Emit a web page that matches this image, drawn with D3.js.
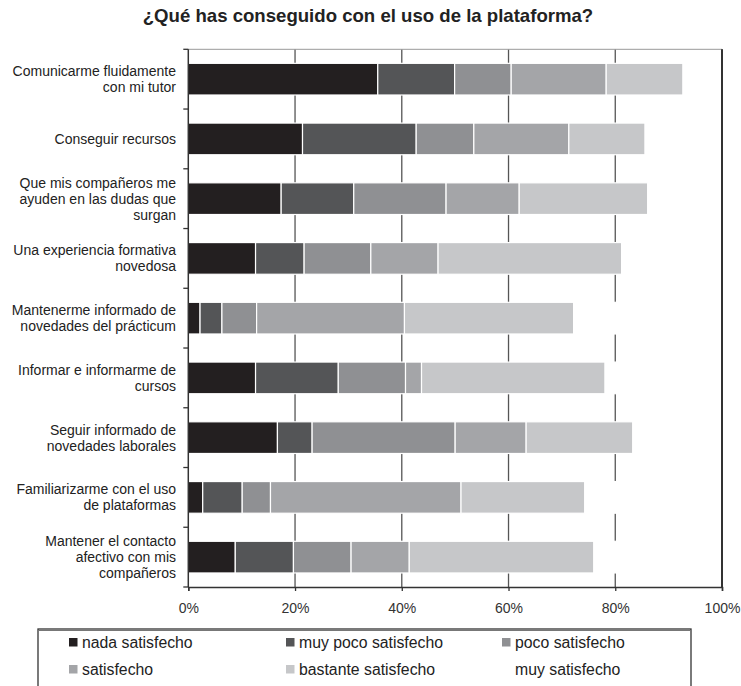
<!DOCTYPE html>
<html>
<head>
<meta charset="utf-8">
<script src="https://cdn.jsdelivr.net/npm/d3@7"></script>
<style>
  body { margin: 0; background: #fff; }
  svg { display: block; font-family: "Liberation Sans", Arial, sans-serif; }
</style>
</head>
<body>
<svg id="chart" width="741" height="686"></svg>
<script>
// categories (line breaks as in the picture)
var categories = [
  "Comunicarme fluidamente\ncon mi tutor",
  "Conseguir recursos",
  "Que mis compañeros me\nayuden en las dudas que\nsurgan",
  "Una experiencia formativa\nnovedosa",
  "Mantenerme informado de\nnovedades del prácticum",
  "Informar e informarme de\ncursos",
  "Seguir informado de\nnovedades laborales",
  "Familiarizarme con el uso\nde plataformas",
  "Mantener el contacto\nafectivo con mis\ncompañeros"
]

var seriesNames = ["nada satisfecho", "muy poco satisfecho", "poco satisfecho",
  "satisfecho", "bastante satisfecho", "muy satisfecho"]

// percentages
var nada     = [35.5, 21.4, 17.4, 12.6,  2.2, 12.6, 16.7,  2.7,  8.8]
var muyPoco  = [14.4, 21.3, 13.6,  9.1,  4.1, 15.5,  6.5,  7.4, 10.9]
var poco     = [10.6, 10.8, 17.3, 12.5,  6.5, 12.6, 26.8,  5.3, 10.8]
var satisf   = [17.8, 17.8, 13.7, 12.6, 27.7,  3.0, 13.3, 35.7, 10.9]
var bastante = [14.4, 14.3, 24.1, 34.4, 31.7, 34.4, 20.0, 23.2, 34.6]
var muy      = [ 7.3, 14.4, 13.9, 18.8, 27.8, 21.9, 16.7, 25.7, 24.0]

var xTicks = [0, 20, 40, 60, 80, 100]

var colors = ["#231f20", "#545557", "#8f9093", "#a4a5a8", "#c6c7c9", "#ffffff"]

var series = [nada, muyPoco, poco, satisf, bastante, muy]
var table = categories.map(function (c, i) {
  var row = { cat: c }
  seriesNames.forEach(function (s, k) { row[s] = series[k][i] })
  return row
})

var svg = d3.select("#chart")
var pLeft = 188.3, pRight = 722, pTop = 49.3, pBottom = 587

var x = d3.scaleLinear().domain([0, 100]).range([pLeft, pRight])
var y = d3.scaleBand().domain(categories).range([pTop, pBottom])
  .paddingInner(0.47).paddingOuter(0.235)

// title
svg.append("text")
  .attr("x", 368).attr("y", 22)
  .attr("text-anchor", "middle")
  .style("font-size", "18.6px").style("font-weight", "bold")
  .attr("fill", "#222")
  .text("¿Qué has conseguido con el uso de la plataforma?")

// gridlines
svg.append("g").selectAll("line")
  .data(xTicks.slice(1))
  .enter().append("line")
  .attr("x1", function (d) { return x(d) }).attr("x2", function (d) { return x(d) })
  .attr("y1", pTop).attr("y2", pBottom)
  .attr("stroke", "#555").attr("stroke-width", 1.3)

// top frame line
svg.append("line")
  .attr("x1", pLeft).attr("x2", pRight).attr("y1", pTop).attr("y2", pTop)
  .attr("stroke", "#999").attr("stroke-width", 1)

// stacked bars
var stack = d3.stack().keys(seriesNames)(table)

svg.append("g").selectAll("g")
  .data(stack)
  .enter().append("g")
  .attr("fill", function (d, i) { return colors[i] })
  .selectAll("rect")
  .data(function (d) { return d })
  .enter().append("rect")
  .attr("x", function (d) { return x(d[0]) })
  .attr("width", function (d) { return x(d[1]) - x(d[0]) })
  .attr("y", function (d) { return y(d.data.cat) })
  .attr("height", y.bandwidth())
  .attr("stroke", "#fff").attr("stroke-width", 1.2)

// right frame
svg.append("line")
  .attr("x1", pRight).attr("x2", pRight).attr("y1", pTop).attr("y2", pBottom)
  .attr("stroke", "#333").attr("stroke-width", 2)

// left axis with ticks between categories
svg.append("line")
  .attr("x1", pLeft).attr("x2", pLeft).attr("y1", pTop).attr("y2", pBottom)
  .attr("stroke", "#333").attr("stroke-width", 1.5)

var bounds = d3.range(categories.length + 1).map(function (i) { return pTop + i * y.step() })
svg.append("g").selectAll("line")
  .data(bounds)
  .enter().append("line")
  .attr("x1", pLeft - 5).attr("x2", pLeft)
  .attr("y1", function (d) { return d }).attr("y2", function (d) { return d })
  .attr("stroke", "#333").attr("stroke-width", 1.3)

// category labels
var labels = svg.append("g").selectAll("text")
  .data(categories)
  .enter().append("text")
  .attr("text-anchor", "end")
  .attr("fill", "#222")
  .style("font-size", "14px")

labels.each(function (c) {
  var lines = c.split("\n")
  var cy = y(c) + y.bandwidth() / 2
  var t = d3.select(this)
  lines.forEach(function (l, j) {
    t.append("tspan")
      .attr("x", 176)
      .attr("y", cy + (j - (lines.length - 1) / 2) * 16 + 5)
      .text(l)
  })
})

// bottom axis
var xAxis = svg.append("g")
  .attr("transform", "translate(0," + pBottom + ")")
  .call(d3.axisBottom(x).tickValues(xTicks).tickSize(4).tickPadding(12)
    .tickFormat(function (d) { return d + "%" }))
xAxis.select(".domain").attr("stroke", "#333").attr("stroke-width", 1.5)
xAxis.selectAll(".tick line").attr("stroke", "#333").attr("stroke-width", 1.3)
xAxis.selectAll("text")
  .style("font-size", "14px")
  .style("font-family", "'Liberation Sans', Arial, sans-serif")
  .attr("fill", "#333")

// legend
var legX = [69, 286, 502], legY = [642, 669]
svg.append("rect")
  .attr("x", 38).attr("y", 629).attr("width", 653).attr("height", 80)
  .attr("fill", "none").attr("stroke", "#333").attr("stroke-width", 1.3)
svg.append("line")
  .attr("x1", 38).attr("x2", 691).attr("y1", 630.5).attr("y2", 630.5)
  .attr("stroke", "#777").attr("stroke-width", 1)

var leg = svg.append("g").selectAll("g")
  .data(seriesNames)
  .enter().append("g")
  .attr("transform", function (d, i) {
    return "translate(" + legX[i % 3] + "," + legY[Math.floor(i / 3)] + ")"
  })
leg.append("rect")
  .attr("x", 0).attr("y", -4).attr("width", 8.5).attr("height", 8.5)
  .attr("fill", function (d, i) { return colors[i] })
leg.append("text")
  .attr("x", 13).attr("dy", "0.36em")
  .attr("fill", "#222")
  .style("font-size", "15.8px")
  .text(function (d) { return d })
</script>
</body>
</html>
